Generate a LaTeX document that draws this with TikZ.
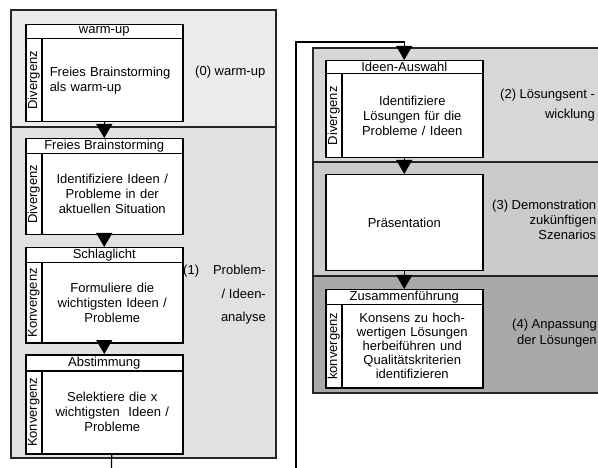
\documentclass[tikz,border=0pt]{standalone}
\usepackage{fontspec}
\setmainfont{Liberation Sans}
\usetikzlibrary{arrows.meta,positioning}
\definecolor{phaseA}{HTML}{ECECEE}
\definecolor{phaseB}{HTML}{E0E1E3}
\definecolor{phaseC}{HTML}{D6D7D9}
\definecolor{phaseD}{HTML}{CACBCD}
\definecolor{phaseE}{HTML}{A8A9AB}
\newcommand{\boxfont}{\fontsize{13}{15}\selectfont}
\tikzset{
    panel/.style={draw=black!85, line width=1.3pt},
    boxhead/.style={draw, line width=1.5pt, fill=white, anchor=north west,
        minimum width=157, inner sep=0pt, font=\boxfont},
    boxside/.style={draw, line width=1.5pt, fill=white, rotate=90, anchor=north east,
        minimum height=16, inner sep=0pt, font=\boxfont},
    boxbody/.style={draw, line width=1.5pt, fill=white, anchor=north west,
        text width=125, inner xsep=8pt, inner ysep=0pt, align=center, font=\boxfont},
    phaselabel/.style={anchor=west, align=right, inner sep=0pt, font=\boxfont},
    flow/.style={-{Triangle[length=14pt,width=16pt]}, line width=1.2pt},
    loop/.style={line width=1.2pt}
}
\begin{document}
\begin{tikzpicture}[x=1pt,y=-1pt]
    \useasboundingbox (0,0) rectangle (598,468);
    \draw[panel, fill=phaseA] (11,10) rectangle (276,127);
    \draw[panel, fill=phaseB] (11,127) rectangle (276,458);
    \draw[panel, fill=phaseC] (313,48) rectangle (612,162);
    \draw[panel, fill=phaseD] (313,162) rectangle (612,276);
    \draw[panel, fill=phaseE] (313,276) rectangle (612,393);
    \node[boxhead, minimum height=14] at (25,24) (h0) {warm-up};
    \node[boxside, minimum width=83] at (25,38) (s0) {Divergenz};
    \node[boxbody, minimum height=83, align=left] at (41,38) (b0) {Freies Brainstorming\\als warm-up};
    \node[boxhead, minimum height=15] at (25,138) (h1) {Freies Brainstorming};
    \node[boxside, minimum width=81] at (25,153) (s1) {Divergenz};
    \node[boxbody, minimum height=81] at (41,153) (b1) {Identifiziere Ideen /\\Probleme in der\\aktuellen Situation};
    \node[boxhead, minimum height=15] at (25,247) (h2) {Schlaglicht};
    \node[boxside, minimum width=80] at (25,262) (s2) {Konvergenz};
    \node[boxbody, minimum height=80] at (41,262) (b2) {Formuliere die\\wichtigsten Ideen /\\Probleme};
    \node[boxhead, minimum height=16] at (25,354) (h3) {Abstimmung};
    \node[boxside, minimum width=83] at (25,370) (s3) {Konvergenz};
    \node[boxbody, minimum height=83] at (41,370) (b3) {Selektiere die x\\wichtigsten\ \ Ideen /\\Probleme};
    \node[boxhead, minimum height=13] at (325,60) (h4) {Ideen-Auswahl};
    \node[boxside, minimum width=84] at (325,73) (s4) {Divergenz};
    \node[boxbody, minimum height=84] at (341,73) (b4) {Identifiziere\\Lösungen für die\\Probleme / Ideen};
    \node[boxhead, minimum height=96] at (325,174) (p5) {Präsentation};
    \node[boxhead, minimum height=15] at (325,289) (h6) {Zusammenführung};
    \node[boxside, minimum width=83] at (325,304) (s6) {konvergenz};
    \node[boxbody, minimum height=83, font=\fontsize{13}{14}\selectfont] at (341,304) (b6) {Konsens zu hoch-\\wertigen Lösungen\\herbeiführen und\\Qualitätskriterien\\identifizieren};
    \node[phaselabel] at (195,72) (l0) {(0) warm-up};
    \node[phaselabel, font=\fontsize{13}{23.5}\selectfont] at (183,295) (l1) {(1)\hspace{14pt}Problem-\\/ Ideen-\\analyse};
    \node[phaselabel, font=\fontsize{13}{20}\selectfont] at (500,105) (l2) {(2) Lösungsent -\\wicklung};
    \node[phaselabel] at (492,220) (l3) {(3) Demonstration\\zukünftigen\\Szenarios};
    \node[phaselabel, font=\fontsize{13}{16}\selectfont] at (512,333) (l4) {(4) Anpassung\\der Lösungen};
    \coordinate (loopL) at (111.5,468);
    \coordinate (loopR) at (296,468);
    \coordinate (loopT) at (296,42);
    \path[flow]
    (b0.south -| h1.north) edge (h1)
    (b1.south -| h2.north) edge (h2)
    (b2.south -| h3.north) edge (h3)
    (b4.south -| p5.north) edge (p5)
    (p5.south) edge (h6)
    ;
    \draw[loop] (b3) -- (loopL);
    \draw[loop, flow] (loopR) -- (loopT) -| (h4);
\end{tikzpicture}
\end{document}
